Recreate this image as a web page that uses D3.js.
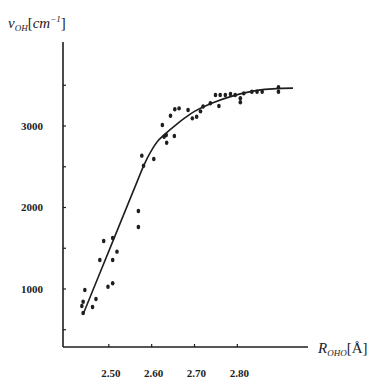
<!DOCTYPE html>
<html>
<head>
<meta charset="utf-8">
<script src="https://cdn.jsdelivr.net/npm/d3@7"></script>
<style>
  body { margin: 0; background: #fff; }
  svg { display: block; }
  .tick-label { font-family: "Liberation Serif", "DejaVu Serif", serif; font-weight: bold; font-size: 11px; fill: #222; }
  .title { font-family: "Liberation Serif", "DejaVu Serif", serif; font-style: italic; font-size: 15px; fill: #222; }
</style>
</head>
<body>
<svg class="chart"></svg>
<script>
// measured points: R(O-H-O) distance [A] and OH stretch frequency [cm-1]
const pointR = [2.437, 2.440, 2.440, 2.444, 2.462, 2.470, 2.479, 2.488, 2.498, 2.509, 2.509, 2.509, 2.519,
  2.569, 2.569, 2.577, 2.581, 2.605, 2.625, 2.629, 2.634, 2.635, 2.644, 2.653, 2.654, 2.664, 2.685,
  2.695, 2.705, 2.714, 2.720, 2.737, 2.749, 2.757, 2.760, 2.772, 2.784, 2.795, 2.807, 2.807, 2.815,
  2.834, 2.846, 2.858, 2.896, 2.896];
const pointV = [791, 844, 706, 988, 779, 877, 1356, 1589, 1028, 1626, 1356, 1070, 1458,
  1957, 1761, 2636, 2513, 2595, 3012, 2869, 2890, 2795, 3126, 2877, 3205, 3217, 3196,
  3094, 3114, 3180, 3240, 3279, 3380, 3245, 3380, 3380, 3393, 3380, 3340, 3291, 3401,
  3421, 3421, 3421, 3475, 3421];

// fitted curve
const curveR = [2.44, 2.50, 2.567, 2.582, 2.598, 2.613, 2.633, 2.656, 2.679, 2.70, 2.74, 2.79, 2.85, 2.93];
const curveV = [690, 1465, 2330, 2521, 2685, 2807, 2910, 3012, 3105, 3180, 3280, 3370, 3440, 3465];

const xTicks = [2.5, 2.6, 2.7, 2.8];
const yTicks = [500, 1000, 1500, 2000, 2500, 3000, 3500];
const yLabels = [1000, 2000, 3000];

const width = 367, height = 380;
const svg = d3.select('svg.chart').attr('width', width).attr('height', height);

const x = d3.scaleLinear().domain([2.393, 2.965]).range([63, 308]);
const y = d3.scaleLinear().domain([288, 4031]).range([347, 42]);
const ink = '#1e1e1e';

//Axes lines
svg.append('line')
  .attr('x1', x(2.393)).attr('x2', x(2.393))
  .attr('y1', y(4031)).attr('y2', y(288))
  .attr('stroke', ink).attr('stroke-width', 1.6);
svg.append('line')
  .attr('x1', x(2.393)).attr('x2', x(2.965))
  .attr('y1', y(288)).attr('y2', y(288))
  .attr('stroke', ink).attr('stroke-width', 1.6);

//Ticks
svg.selectAll('.xtick')
  .data(xTicks)
  .enter()
  .append('line')
    .attr('x1', d => x(d)).attr('x2', d => x(d))
    .attr('y1', y(288)).attr('y2', y(288) - 3)
    .attr('stroke', ink).attr('stroke-width', 1.2);

svg.selectAll('.ytick')
  .data(yTicks)
  .enter()
  .append('line')
    .attr('x1', x(2.393)).attr('x2', x(2.393) + 3)
    .attr('y1', d => y(d)).attr('y2', d => y(d))
    .attr('stroke', ink).attr('stroke-width', 1.2);

//Tick labels
svg.selectAll('.xlab')
  .data(xTicks)
  .enter()
  .append('text')
    .classed('tick-label', true)
    .attr('x', d => x(d) + 2)
    .attr('y', 377)
    .attr('text-anchor', 'middle')
    .text(d => d.toFixed(2));

svg.selectAll('.ylab')
  .data(yLabels)
  .enter()
  .append('text')
    .classed('tick-label', true)
    .attr('x', 43)
    .attr('y', d => y(d) + 4)
    .attr('text-anchor', 'end')
    .text(d => d);

//Axis titles
let yt = svg.append('text').classed('title', true).attr('x', 8).attr('y', 28);
yt.append('tspan').text('ν');
yt.append('tspan').attr('font-size', '9px').attr('dy', 3).text('OH');
yt.append('tspan').attr('dy', -3).attr('font-style', 'normal').text('[');
yt.append('tspan').text('cm');
yt.append('tspan').attr('font-size', '9px').attr('dy', -6).text('−1');
yt.append('tspan').attr('dy', 6).attr('font-style', 'normal').text(']');

let xt = svg.append('text').classed('title', true).attr('x', 318).attr('y', 353);
xt.append('tspan').text('R');
xt.append('tspan').attr('font-size', '9px').attr('dy', 3).text('OHO');
xt.append('tspan').attr('dy', -3).attr('font-style', 'normal').text('[Å]');

//Fitted curve
const curveData = curveR.map((r, i) => ({ r: r, v: curveV[i] }));
const line = d3.line()
  .x(d => x(d.r))
  .y(d => y(d.v))
  .curve(d3.curveCatmullRom.alpha(0.5));

svg.append('path')
  .datum(curveData)
  .attr('d', line)
  .attr('fill', 'none')
  .attr('stroke', ink)
  .attr('stroke-width', 1.6);

//Data points
const pts = pointR.map((r, i) => ({ r: r, v: pointV[i] }));
svg.selectAll('.pt')
  .data(pts)
  .enter()
  .append('ellipse')
    .attr('cx', d => x(d.r))
    .attr('cy', d => y(d.v))
    .attr('rx', 1.8)
    .attr('ry', 2.2)
    .attr('fill', ink);
</script>
</body>
</html>
